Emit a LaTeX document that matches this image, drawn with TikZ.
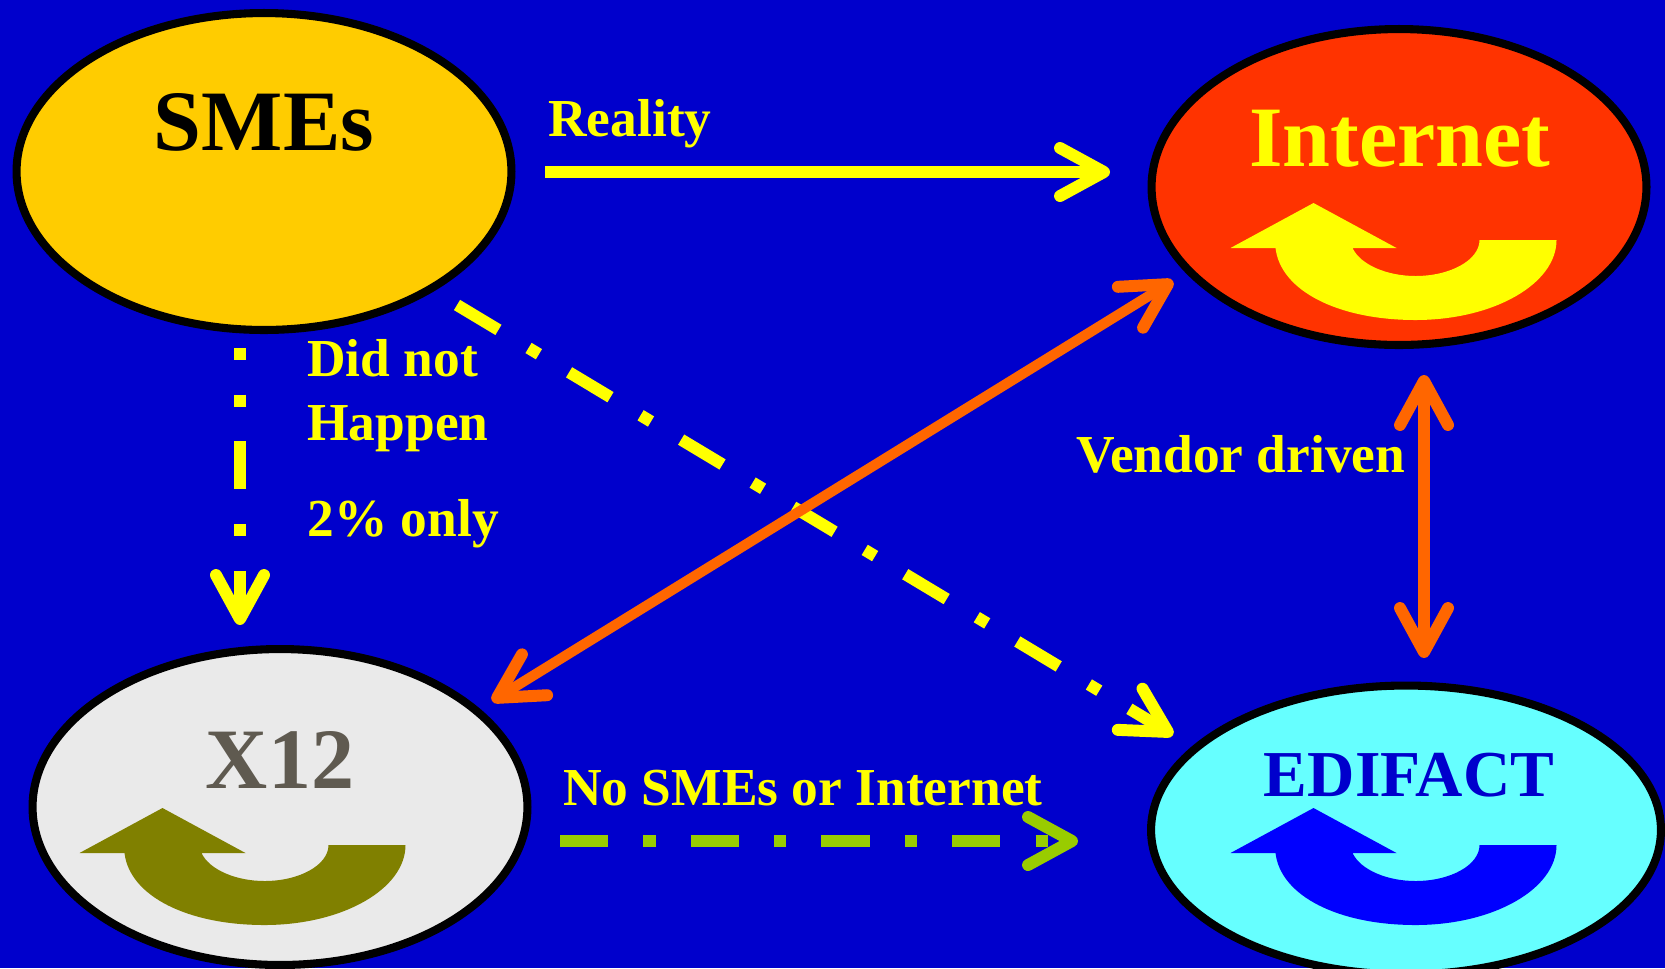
\documentclass[tikz,border=0pt]{standalone}
\usepackage{fontspec}
\setmainfont{Liberation Serif}
\usetikzlibrary{arrows.meta,shapes.geometric}
\definecolor{backblue}{HTML}{0000CC}
\definecolor{lemon}{HTML}{FFFF00}
\definecolor{smegold}{HTML}{FFCC00}
\definecolor{netred}{HTML}{FF3300}
\definecolor{xgrey}{HTML}{EAEAEA}
\definecolor{xtext}{HTML}{5F5A50}
\definecolor{xolive}{HTML}{808000}
\definecolor{edicyan}{HTML}{66FFFF}
\definecolor{flow}{HTML}{FF6600}
\definecolor{nogreen}{HTML}{99CC00}
\begin{document}
\begin{tikzpicture}[x=.02cm,y=-.02cm,
    >={Straight Barb[length=.88cm,width=.96cm,round,line width=6.8pt]},
    uturn/.pic={\fill[pic actions] (0,0) -- (83,45) -- (39,45)
        .. controls (47,62) and (74,73) .. (102,73)
        .. controls (137,73) and (166,57) .. (166,37) -- (243,37)
        .. controls (243,81) and (180,117) .. (102,117)
        .. controls (25,117) and (-33,88) .. (-38,45) -- (-83,45) -- cycle;}]
    \tikzstyle{element}=[ellipse,draw=black,line width=4.6pt,inner sep=0pt]
    \tikzstyle{note}=[text=lemon,font=\fontsize{30.4}{30.4}\selectfont\bfseries,inner sep=0pt]
    \tikzstyle{title}=[font=\fontsize{49}{49}\selectfont\bfseries,inner sep=0pt]
    \tikzstyle{solidflow}=[line width=6.8pt,->]
    \tikzstyle{bothflow}=[draw=flow,line width=5.8pt,<->]
    \tikzstyle{dotflow}=[solidflow,dash pattern=on 27.5pt off 20pt on 6.9pt off 20pt]

    \useasboundingbox (0,0) rectangle (1665,968);
    \clip (0,0) rectangle (1665,968);
    \fill[backblue] (0,0) rectangle (1665,968);

    \node[element,fill=smegold,minimum width=9.9cm,minimum height=6.34cm] (smes) at (264,171.5) {};
    \node[element,fill=netred,minimum width=9.9cm,minimum height=6.32cm] (internet) at (1399,187) {};
    \node[element,fill=xgrey,minimum width=9.9cm,minimum height=6.32cm] (xtwelve) at (280,807) {};
    \node[element,fill=edicyan,minimum width=10.2cm,minimum height=5.78cm] (edifact) at (1406,830) {};

    \node[title,text=black] (smesname) at (264,122) {SMEs};
    \node[title,text=lemon] (internetname) at (1400,139) {Internet};
    \node[title,text=xtext] (xtwelvename) at (280,760) {X12};
    \node[title,text=backblue,font=\fontsize{37.3}{37.3}\selectfont\bfseries] (edifactname) at (1409,775) {EDIFACT};

    \pic[fill=lemon] at (1313.5,203) {uturn};
    \pic[fill=xolive] at (162.5,808) {uturn};
    \pic[fill=blue] at (1313.5,808) {uturn};

    \coordinate (smesright) at (545,172);
    \coordinate (internetleft) at (1110,172);
    \coordinate (smesbottom) at (240,348);
    \coordinate (xtwelvetop) at (240,625);
    \coordinate (smescorner) at (457,305);
    \coordinate (edifactcorner) at (1173,735);
    \coordinate (xtwelvecorner) at (492,701);
    \coordinate (internetcorner) at (1173,281);
    \coordinate (internetbottom) at (1424,375);
    \coordinate (edifacttop) at (1424,658);
    \coordinate (xtwelveright) at (560,841);
    \coordinate (edifactleft) at (1078,841);

    \draw[solidflow,draw=lemon] (smesright) -- (internetleft);
    \draw[solidflow,draw=lemon,dash pattern=on 6.8pt off 19.8pt on 6.8pt off 19.8pt on 27.2pt off 19.8pt on 6.8pt off 19.8pt on 27.2pt off 19.8pt] (smesbottom) -- (xtwelvetop);
    \draw[dotflow,draw=lemon] (smescorner) -- (edifactcorner);
    \draw[bothflow] (xtwelvecorner) -- (internetcorner);
    \draw[bothflow,line width=6.8pt] (internetbottom) -- (edifacttop);
    \draw[dotflow,draw=nogreen] (xtwelveright) -- (edifactleft);

    \node[note,anchor=west] (reality) at (548,124) {Reality};
    \node[note,anchor=west] (didnot) at (307,358) {Did not};
    \node[note,anchor=west] (happen) at (307,429) {Happen};
    \node[note,anchor=west] (only) at (307,524) {2\% only};
    \node[note,anchor=west] (vendor) at (1076,454) {Vendor driven};
    \node[note,anchor=west] (nosmes) at (563,788) {No SMEs or Internet};
\end{tikzpicture}
\end{document}
